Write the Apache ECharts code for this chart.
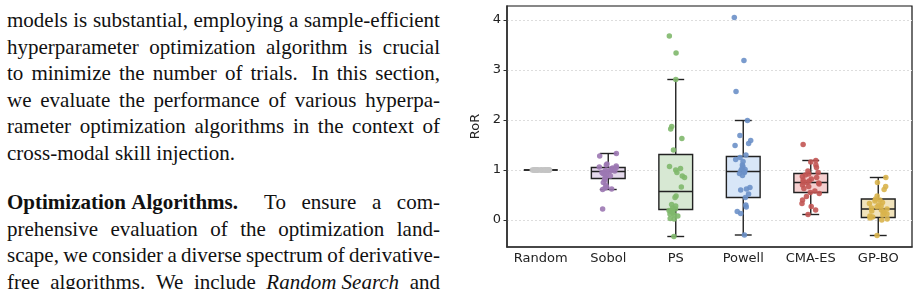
<!DOCTYPE html>
<html>
<head>
<meta charset="utf-8">
<script src="https://cdn.jsdelivr.net/npm/echarts@6/dist/echarts.min.js"></script>
<style>
  html, body { margin: 0; padding: 0; background: #fff; }
  body { width: 919px; height: 289px; position: relative; overflow: hidden; }
  #text { position: absolute; left: 7px; top: 7px; width: 433px;
          font-family: "Liberation Serif", "Times New Roman", serif; font-size: 21px; color: #111; }
  #text .ln { height: 26.5px; line-height: 26.5px; white-space: nowrap; display: flex; justify-content: space-between; }
  #text .plain { height: 26.5px; line-height: 26.5px; white-space: pre; }
  #text .gap { height: 23px; }
  #chart { position: absolute; left: 460px; top: 0; width: 459px; height: 289px; }
</style>
</head>
<body>
<div id="text"></div>
<div id="chart"></div>
<script>
// paper text next to the figure (one entry per printed line)
var textLines = [
  'models is substantial, employing a sample-efficient',
  'hyperparameter optimization algorithm is crucial',
  'to minimize the number of trials.\u00a0 In this section,',
  'we evaluate the performance of various hyperpa-',
  'rameter optimization algorithms in the context of'
];
var textLast = 'cross-modal skill injection.';
var textLines2 = [
  '<b>Optimization\u00a0Algorithms.</b>\u00a0\u00a0 To ensure a com-',
  'prehensive evaluation of the optimization land-',
  'scape, we consider a diverse spectrum of derivative-',
  'free algorithms. We include <i>Random\u00a0Search</i> and'
];

var categories = ['Random', 'Sobol', 'PS', 'Powell', 'CMA-ES', 'GP-BO'];

// box stats: [low whisker, q1, median, q3, high whisker]
var boxStats = [
  [1.00, 1.00, 1.00, 1.00, 1.00],
  [0.61, 0.83, 0.97, 1.05, 1.33],
  [-0.33, 0.21, 0.57, 1.31, 2.81],
  [-0.30, 0.45, 0.97, 1.27, 1.99],
  [0.11, 0.55, 0.75, 0.93, 1.19],
  [-0.31, 0.05, 0.22, 0.42, 0.85]
];

// individual runs
var randomVals = [1, 1, 1, 1, 1, 1, 1, 1, 1, 1, 1, 1, 1, 1, 1, 1, 1, 1, 1, 1, 1, 1, 1, 1, 1, 1, 1, 1, 1, 1];
var sobolVals = [1.33, 1.28, 1.12, 1.10, 1.08, 1.06, 1.05, 1.04, 1.02, 1.00, 0.99, 0.98, 0.97, 0.96, 0.95,
                 0.93, 0.92, 0.90, 0.88, 0.85, 0.83, 0.80, 0.75, 0.70, 0.66, 0.64, 0.62, 0.61, 0.22];
var psVals = [3.68, 3.34, 2.81, 1.87, 1.82, 1.63, 1.40, 1.07, 1.03, 1.00, 0.95, 0.88, 0.85, 0.66, 0.48,
              0.45, 0.31, 0.28, 0.24, 0.22, 0.20, 0.19, 0.17, 0.14, 0.12, 0.10, 0.08, 0.03, 0.02, -0.33];
var powellVals = [4.05, 3.19, 2.57, 1.99, 1.69, 1.59, 1.53, 1.49, 1.30, 1.25, 1.21, 1.17, 1.10, 1.07, 1.03,
                  1.01, 0.99, 0.97, 0.95, 0.93, 0.89, 0.65, 0.62, 0.60, 0.52, 0.45, 0.30, 0.26, 0.17, 0.13, -0.30];
var cmaVals = [1.51, 1.19, 1.16, 1.10, 1.05, 0.98, 0.95, 0.92, 0.90, 0.87, 0.85, 0.82, 0.80, 0.78, 0.76,
               0.75, 0.74, 0.72, 0.70, 0.67, 0.63, 0.58, 0.55, 0.53, 0.47, 0.40, 0.33, 0.27, 0.20, 0.11];
var gpboVals = [0.85, 0.75, 0.67, 0.61, 0.48, 0.42, 0.40, 0.38, 0.35, 0.33, 0.30, 0.28, 0.26, 0.24, 0.22,
                0.20, 0.18, 0.16, 0.14, 0.12, 0.10, 0.08, 0.06, 0.04, 0.02, 0.00, -0.31];

var yTicks = [0, 1, 2, 3, 4];

var pointColors = ['#c4c4c4', '#9c78b2', '#80b86b', '#6c90c8', '#c25553', '#d9b44c'];
var boxFills = ['#e4e4e4', '#e5d9ec', '#d7e8d3', '#d8e6f8', '#f6cfcf', '#f1e3bb'];

// text: justified lines are spread word by word
function words(t) {
	return t.split(' ').map(function(p) { return '<span>' + p + '</span>'; }).join('');
}
var html = '';
textLines.forEach(function(t) {
	html += '<div class="ln">' + words(t) + '</div>';
});
html += '<div class="plain">' + textLast + '</div>';
html += '<div class="gap"></div>';
textLines2.forEach(function(t) {
	html += '<div class="ln">' + words(t) + '</div>';
});
document.getElementById('text').innerHTML = html;

// chart
var chart = echarts.init(document.getElementById('chart'));

var allVals = [randomVals, sobolVals, psVals, powellVals, cmaVals, gpboVals];

function renderBox(params, api) {
	var x = api.value(0);
	var lo = api.coord([x, api.value(1)]);
	var q1 = api.coord([x, api.value(2)]);
	var md = api.coord([x, api.value(3)]);
	var q3 = api.coord([x, api.value(4)]);
	var hi = api.coord([x, api.value(5)]);
	var band = api.size([1, 0])[0];
	var bw = band * 0.5, cw = band * 0.25;
	var cx = lo[0];
	var ls = { stroke: '#222', lineWidth: 1.4 };
	return {
		type: 'group',
		children: [
			{ type: 'line', shape: { x1: cx, y1: hi[1], x2: cx, y2: q3[1] }, style: ls },
			{ type: 'line', shape: { x1: cx, y1: q1[1], x2: cx, y2: lo[1] }, style: ls },
			{ type: 'line', shape: { x1: cx - cw / 2, y1: hi[1], x2: cx + cw / 2, y2: hi[1] }, style: ls },
			{ type: 'line', shape: { x1: cx - cw / 2, y1: lo[1], x2: cx + cw / 2, y2: lo[1] }, style: ls },
			{ type: 'rect', shape: { x: cx - bw / 2, y: q3[1], width: bw, height: q1[1] - q3[1] },
			  style: { fill: boxFills[params.dataIndex], stroke: '#222', lineWidth: 1.4 } },
			{ type: 'line', shape: { x1: cx - bw / 2, y1: md[1], x2: cx + bw / 2, y2: md[1] }, style: ls }
		]
	};
}

var series = [{
	type: 'custom',
	renderItem: renderBox,
	encode: { x: 0, y: [1, 2, 3, 4, 5] },
	data: boxStats.map(function(s, i) { return [i].concat(s); }),
	z: 2
}];

for (var i = 0; i < categories.length; i++) {
	series.push({
		type: 'scatter',
		symbolSize: 5.5,
		itemStyle: { color: pointColors[i], opacity: 0.9 },
		data: allVals[i].map(function(v) { return [categories[i], v]; }),
		z: 3
	});
}

var option = {
	animation: false,
	grid: { left: 47, right: 7, top: 6, bottom: 42, show: true, borderColor: '#111', borderWidth: 1.2 },
	xAxis: {
		type: 'category',
		data: categories,
		boundaryGap: true,
		jitter: 18,
		jitterOverlap: true,
		axisLine: { onZero: false, lineStyle: { color: '#333', width: 1.6 } },
		axisTick: { alignWithLabel: true, length: 3.5, lineStyle: { color: '#333' } },
		axisLabel: { interval: 0, fontFamily: 'DejaVu Sans', fontSize: 13, color: '#222', margin: 5 },
		splitLine: { show: false }
	},
	yAxis: {
		type: 'value',
		min: -0.54,
		max: 4.28,
		name: 'RoR',
		nameLocation: 'middle',
		nameGap: 22,
		nameTextStyle: { fontFamily: 'DejaVu Sans', fontSize: 13, color: '#222' },
		axisLine: { show: true, lineStyle: { color: '#333', width: 1.6 } },
		axisTick: { show: true, length: 3.5, customValues: yTicks, lineStyle: { color: '#333' } },
		axisLabel: { fontFamily: 'DejaVu Sans', fontSize: 13, color: '#222', margin: 6, customValues: yTicks },
		splitLine: { show: true, lineStyle: { color: '#ddd', type: [2, 2], width: 1 } }
	},
	series: series
};

chart.setOption(option);
</script>
</body>
</html>
